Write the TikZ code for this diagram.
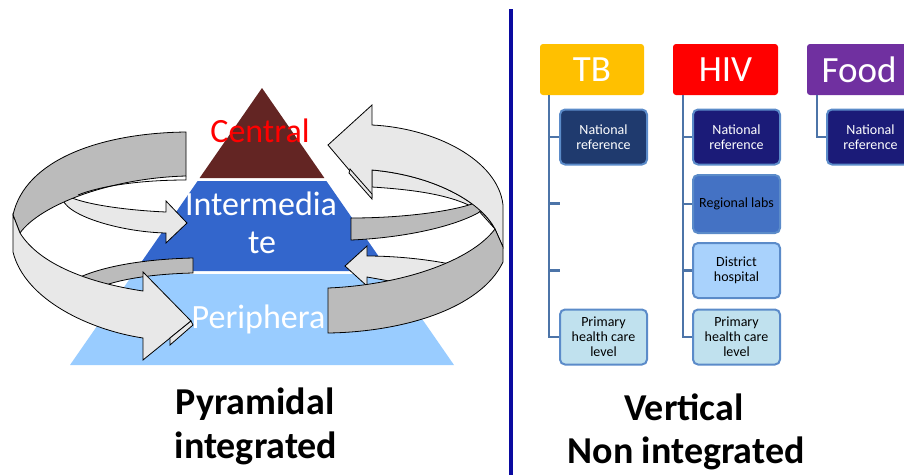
\documentclass[tikz,border=0pt]{standalone}
\usepackage{fontspec}
\setmainfont{Carlito}
\definecolor{cbrown}{HTML}{632523}
\definecolor{cmid}{HTML}{3366CC}
\definecolor{cper}{HTML}{99CCFF}
\definecolor{alight}{HTML}{E8E8E8}
\definecolor{adark}{HTML}{BBBBBB}
\definecolor{csep}{HTML}{0A0AA0}
\definecolor{ctb}{HTML}{FFC000}
\definecolor{chiv}{HTML}{FF0000}
\definecolor{cfood}{HTML}{7030A0}
\definecolor{navyA}{HTML}{1F3A6E}
\definecolor{navyB}{HTML}{1B1B78}
\definecolor{creg}{HTML}{4472C4}
\definecolor{cdist}{HTML}{A9D2FC}
\definecolor{cprim}{HTML}{C0E1EE}
\definecolor{cborder}{HTML}{5B8BC9}
\definecolor{cconn}{HTML}{4C74A8}
\begin{document}
\begin{tikzpicture}[x=1pt,y=-1pt,
  lightarrow/.style={fill=alight,draw=black,line width=0.8pt,line join=miter},
  darkarrow/.style={fill=adark,draw=black,line width=0.8pt,line join=miter},
  pyrtext/.style={anchor=base,inner sep=0pt,font=\fontsize{34}{38}\selectfont},
  hdr/.style={minimum width=104pt,minimum height=51pt,rounded corners=3pt,text=white,inner sep=0pt,font=\fontsize{37}{40}\selectfont},
  sub/.style={minimum width=87pt,minimum height=55pt,rounded corners=5pt,draw=cborder,line width=2pt,inner sep=0pt,align=center,font=\fontsize{14}{15}\selectfont},
  conn/.style={draw=cconn,line width=2.5pt},
  lbl/.style={anchor=base,inner sep=0pt,font=\bfseries\fontsize{38}{42}\selectfont}]
\useasboundingbox (0,0) rectangle (904,475);

% pyramid
\fill[cbrown] (262,88) -- (324.4,178) -- (199.6,178) -- cycle;
\fill[cmid] (197.6,181) -- (326.4,181) -- (388.8,271) -- (135.2,271) -- cycle;
\fill[cper] (133.1,274) -- (390.9,274) -- (454,365) -- (70,365) -- cycle;

\node[pyrtext,text=red] (central) at (260,142) {Central};
\node[pyrtext,text=white] (inter1) at (261,215) {Intermedia};
\node[pyrtext,text=white] (inter2) at (262,253) {te};
\node[pyrtext,text=white] (peri) at (258.5,328) {Periphera};

% left arrows
\path[lightarrow] (62,196) .. controls (62,215) and (120,232) .. (166,233) -- (166,243) -- (187,223) -- (166,201) -- (166,212) .. controls (120,210) and (80,203) .. (68,196) -- cycle;
\path[darkarrow] (193,258) -- (193,273) .. controls (150,274) and (110,280) .. (90,292) -- (70,282) .. controls (100,265) and (150,259) .. (193,258) -- cycle;
\path[darkarrow] (186,132) .. controls (100,133) and (25,160) .. (13,215) -- (20,233) .. controls (40,205) and (110,178) .. (186,176) -- cycle;
\draw[line width=0.8pt] (186,176) -- (186,180) .. controls (140,180) and (100,186) .. (78,195);
\path[lightarrow] (13,215) -- (13,252) .. controls (25,300) and (90,330) .. (143,338) -- (143,360) -- (191,321) -- (143,272) -- (143,291) .. controls (90,283) and (40,265) .. (20,233) -- cycle;
\path[lightarrow] (170,338) -- (170,345) -- (193,325) -- (191,321) -- cycle;

% right arrows
\path[lightarrow] (367,256) .. controls (395,256) and (425,259) .. (450,264) -- (440,290) -- (367,277) -- (367,286) -- (345,266) -- (367,246) -- cycle;
\path[lightarrow] (372,170) -- (372,187) .. controls (420,190) and (455,196) .. (478,210) -- (495,229) .. controls (480,200) and (430,175) .. (372,170) -- cycle;
\path[darkarrow] (351,218) .. controls (400,218) and (450,212) .. (475,203) .. controls (482,200) and (484,209) .. (478,213) .. controls (450,228) and (400,238) .. (351,240) -- cycle;
\path[lightarrow] (372,125) .. controls (435,128) and (498,160) .. (503,205) -- (503,247) -- (495,229) .. controls (480,200) and (430,175) .. (372,170) -- (372,197) -- (328,145) -- (372,105) -- cycle;
\path[lightarrow] (350,169) -- (349,173) -- (372,199) -- (372,194) -- cycle;
\path[darkarrow] (495,229) -- (503,247) -- (503,262) .. controls (480,310) and (400,332) .. (328,333) -- (328,288) .. controls (400,285) and (470,262) .. (495,229) -- cycle;

% separator
\draw[csep,line width=3.5pt] (511,9) -- (511,475);

% vertical charts
\node[hdr,fill=ctb] (tb) at (592,69.5) {TB};
\node[hdr,fill=chiv,minimum width=105pt] (hiv) at (725.5,69.5) {HIV};
\node[hdr,fill=cfood] (food) at (859,69.5) {Food};

\node[sub,fill=navyA,text=white] (tbnat) at (603.5,137) {National\\reference};
\node[sub,fill=cprim] (tbprim) at (603.5,337) {Primary\\health care\\level};
\node[sub,fill=navyB,text=white] (hivnat) at (736.5,137) {National\\reference};
\node[sub,fill=creg,minimum height=58pt] (hivreg) at (736.5,204) {Regional labs};
\node[sub,fill=cdist] (hivdist) at (736.5,270.5) {District\\hospital};
\node[sub,fill=cprim] (hivprim) at (736.5,337) {Primary\\health care\\level};
\node[sub,fill=navyB,text=white] (foodnat) at (870.5,137) {National\\reference};

\coordinate (tbl) at ([xshift=9pt]tb.south west);
\coordinate (hivl) at ([xshift=10pt]hiv.south west);
\coordinate (foodl) at ([xshift=10pt]food.south west);
\coordinate (tbe1) at (560,203.5);
\coordinate (tbe2) at (560,270.5);

\draw[conn] (tbl) |- (tbprim.west);
\draw[conn] (tbl |- tbnat.west) -- (tbnat.west);
\draw[conn] (tbl |- tbe1) -- (tbe1);
\draw[conn] (tbl |- tbe2) -- (tbe2);
\draw[conn] (hivl) |- (hivprim.west);
\draw[conn] (hivl |- hivnat.west) -- (hivnat.west);
\draw[conn] (hivl |- hivreg.west) -- (hivreg.west);
\draw[conn] (hivl |- hivdist.west) -- (hivdist.west);
\draw[conn] (foodl) |- (foodnat.west);

% labels
\node[lbl] (pyr1) at (255,414) {Pyramidal};
\node[lbl] (pyr2) at (256,458) {integrated};
\node[lbl] (ver1) at (684,420) {Vertical};
\node[lbl] (ver2) at (686,463) {Non integrated};
\end{tikzpicture}
\end{document}
